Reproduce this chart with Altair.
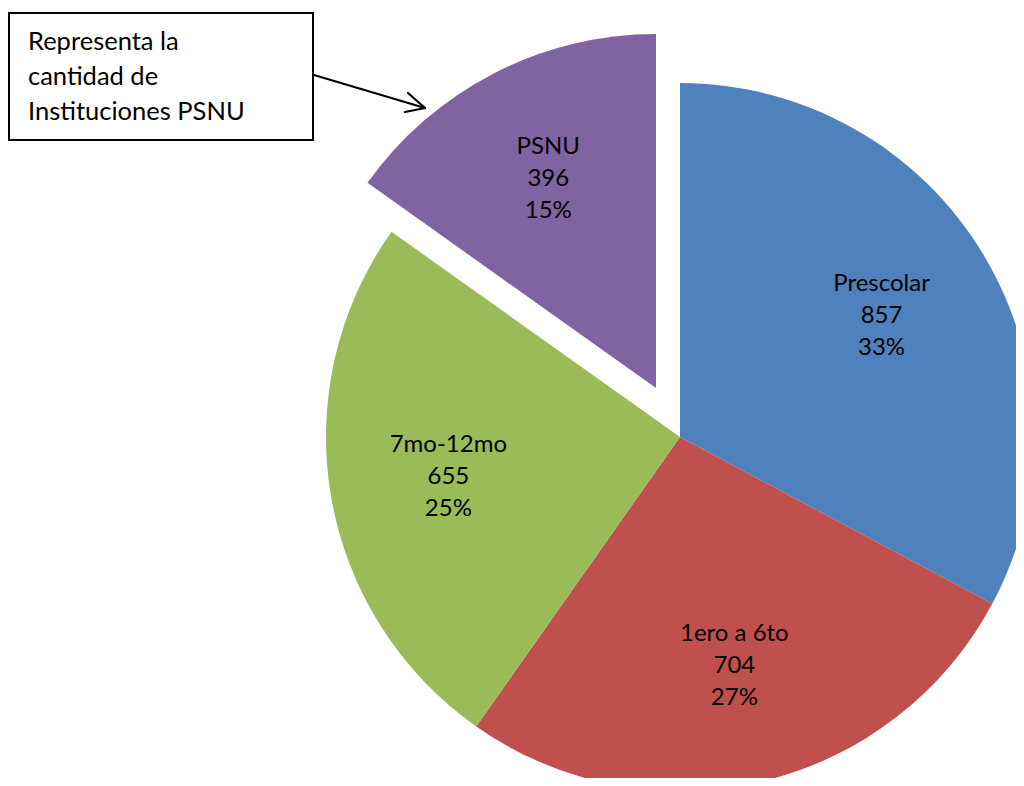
import math
import altair as alt
import pandas as pd

# ---- data ----
categories = ["Prescolar", "1ero a 6to", "7mo-12mo", "PSNU"]
values = [857, 704, 655, 396]
order = [0, 1, 2, 3]
colors = ["#4F81BD", "#C0504D", "#9BBB59", "#8064A2"]
callout_lines = ["Representa la", "cantidad de", "Instituciones PSNU"]

FONT = "Lato"
CX, CY = 672, 429          # pie centre (chart pixels)
EX, EY = 648, 380          # centre of exploded PSNU slice
R = 354
LH = 32

df = pd.DataFrame({"cat": categories, "value": values, "order": order})

th_scale = alt.Scale(domain=[0, 1], range=[0, 2 * math.pi])
col_scale = alt.Scale(domain=categories, range=colors)

base = (
    alt.Chart(df)
    .transform_joinaggregate(total="sum(value)")
    .transform_window(cum="sum(value)", sort=[alt.SortField("order")], frame=[None, 0])
    .transform_calculate(
        start="(datum.cum - datum.value) / datum.total",
        end="datum.cum / datum.total",
        mid="(datum.cum - datum.value / 2) / datum.total",
        label="datum.cat + '\\n' + format(datum.value, 'd') + '\\n' + format(datum.value / datum.total, '.0%')",
    )
)

main = base.transform_filter("datum.cat != 'PSNU'")
expl = base.transform_filter("datum.cat == 'PSNU'")

arc_enc = dict(
    theta=alt.Theta("start:Q", scale=th_scale),
    theta2="end:Q",
    color=alt.Color("cat:N", scale=col_scale, legend=None),
)

arcs_main = main.mark_arc(outerRadius=R).encode(x=alt.value(CX), y=alt.value(CY), **arc_enc)
arcs_expl = expl.mark_arc(outerRadius=R).encode(x=alt.value(EX), y=alt.value(EY), **arc_enc)

txt_props = dict(radius=235, fontSize=24, font=FONT, baseline="middle", align="center",
                 lineBreak="\n", lineHeight=LH, dy=-LH, color="black")
txt_main = main.mark_text(**txt_props).encode(
    theta=alt.Theta("mid:Q", scale=th_scale), text="label:N", x=alt.value(CX), y=alt.value(CY))
txt_expl = expl.mark_text(**txt_props).encode(
    theta=alt.Theta("mid:Q", scale=th_scale), text="label:N", x=alt.value(EX), y=alt.value(EY))

# ---- callout box ----
one = pd.DataFrame({"a": [0]})
box = alt.Chart(one).mark_rect(fill="white", stroke="black", strokeWidth=2).encode(
    x=alt.value(1), x2=alt.value(305), y=alt.value(5), y2=alt.value(132))

callout_df = pd.DataFrame({"t": ["\n".join(callout_lines)]})
callout = alt.Chart(callout_df).mark_text(
    font=FONT, fontSize=25.5, align="left", baseline="alphabetic", lineBreak="\n",
    lineHeight=35, color="black").encode(x=alt.value(20), y=alt.value(42), text="t:N")

seg = pd.DataFrame({
    "x": [306, 417, 417],
    "y": [67, 100, 100],
    "x2": [417, 400, 397],
    "y2": [100, 85, 104],
})
arrow = alt.Chart(seg).mark_rule(color="black", strokeWidth=2.2, strokeCap="round").encode(
    x=alt.X("x:Q", scale=None), y=alt.Y("y:Q", scale=None),
    x2="x2:Q", y2="y2:Q")

chart = alt.layer(arcs_main, arcs_expl, txt_main, txt_expl, box, callout, arrow).properties(
    width=1008, height=770, padding=0, autosize=alt.AutoSizeParams(type="none")
).configure_view(stroke=None)

chart.save("out.html", embed_options={"renderer": "svg", "actions": False})
